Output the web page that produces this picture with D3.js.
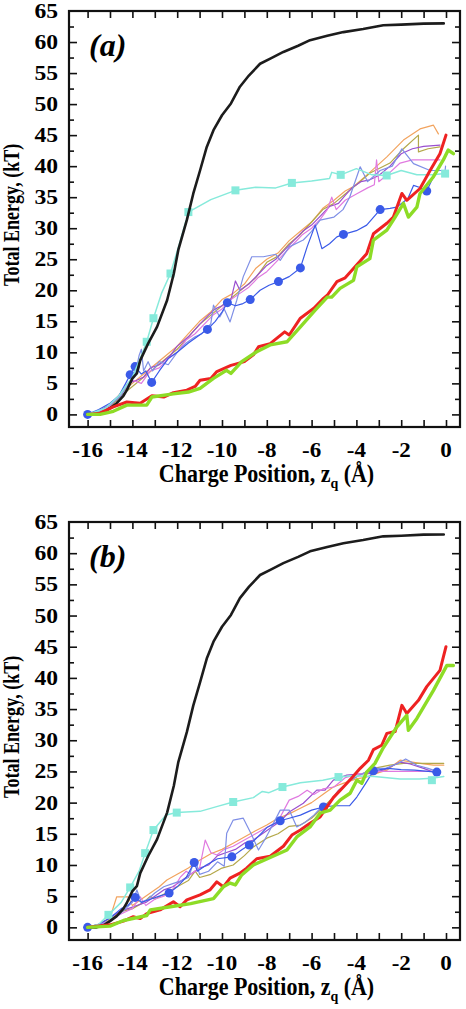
<!DOCTYPE html>
<html><head><meta charset="utf-8">
<script src="https://cdn.jsdelivr.net/npm/d3@7"></script>
<style>body{margin:0;background:#fff}svg{display:block}</style>
</head><body>
<script>
// ---- data ----
const xTicks = [-16,-14,-12,-10,-8,-6,-4,-2,0];
const yTicks = [0,5,10,15,20,25,30,35,40,45,50,55,60,65];
const panelLabels = ["(a)","(b)"];

const blackCurve = [[-16,0],[-15.6,0],[-15.3,0.3],[-15.0,1.0],[-14.7,1.8],[-14.4,3.0],[-14.25,3.9],[-14.0,5.8],[-13.8,6.6],[-13.65,8.7],[-13.3,11.4],[-12.9,14.1],[-12.45,18.4],[-12.15,22.7],[-11.95,26.5],[-11.57,31.3],[-11.28,35.6],[-10.98,39.3],[-10.68,43.1],[-10.38,45.8],[-10.0,48.2],[-9.6,50.1],[-9.2,52.8],[-8.8,54.6],[-8.3,56.5],[-7.8,57.4],[-7.26,58.4],[-6.6,59.4],[-6.07,60.3],[-5.3,61.0],[-4.58,61.6],[-3.7,62.1],[-2.8,62.7],[-2.0,62.8],[-1.0,62.97],[-0.1,63]];

const redA = [[-16,0],[-15.44,0.2],[-14.85,1.2],[-14.25,2.0],[-13.65,1.8],[-13.13,3.0],[-12.6,2.8],[-12.17,3.5],[-11.57,3.9],[-11.2,4.5],[-10.98,5.5],[-10.5,5.8],[-10.23,6.9],[-9.6,7.9],[-9.0,8.5],[-8.6,9.6],[-8.37,10.9],[-7.85,11.4],[-7.2,13.3],[-7.0,12.8],[-6.5,15.5],[-5.9,17.1],[-5.47,18.7],[-5.3,19.2],[-4.87,21.4],[-4.5,22.0],[-4.13,23.5],[-3.54,25.9],[-3.24,29.1],[-2.64,30.8],[-2.35,31.8],[-1.97,35.6],[-1.75,34.5],[-1.16,36.4],[-0.71,39.3],[-0.27,42.0],[0.0,45.0]];
const greenA = [[-16,0],[-15.44,0],[-14.85,0.5],[-14.25,1.5],[-13.36,1.5],[-13.13,2.8],[-12.17,3.3],[-11.5,3.6],[-10.98,4.2],[-10.38,5.8],[-9.8,7.1],[-9.6,6.6],[-9.12,8.5],[-8.45,10.1],[-7.85,11.2],[-7.1,11.7],[-6.5,14.1],[-5.84,16.8],[-5.3,18.9],[-5.1,18.9],[-4.73,20.3],[-4.13,21.6],[-3.98,23.8],[-3.4,25.1],[-3.24,28.1],[-2.64,29.7],[-2.27,31.8],[-1.9,34.0],[-1.68,31.8],[-1.3,33.4],[-1.16,35.6],[-0.56,38.3],[-0.12,41.0],[0.1,42.6],[0.33,42.0]];
const cyanA = [[-16,0],[-15.2,1.0],[-14.6,3.0],[-14.0,6.0],[-13.6,9.5],[-13.36,11.7],[-13.06,15.5],[-12.7,19.5],[-12.3,22.7],[-11.9,27.5],[-11.5,32.6],[-10.5,34.6],[-9.4,36.1],[-8.5,36.6],[-7.6,36.5],[-6.88,37.3],[-6.0,37.6],[-5.2,38.0],[-5.1,39.0],[-4.7,38.6],[-4.0,39.6],[-3.3,38.6],[-2.65,38.5],[-2.0,39.3],[-1.3,38.6],[-0.6,38.6],[-0.04,38.8]];
const cyanMarksA = [[-13.36,11.7],[-13.06,15.5],[-12.3,22.7],[-11.5,32.6],[-9.4,36.1],[-6.88,37.3],[-4.7,38.6],[-2.65,38.5],[-0.04,38.8]];
const orangeA = [[-16,0],[-15.5,0.5],[-15,1.5],[-14.5,3.5],[-14,5],[-13.5,6.5],[-13,8],[-12.5,9.5],[-12,11],[-11.5,13],[-11,15],[-10.5,16.5],[-10,18.5],[-9.5,19.5],[-9,21],[-8.5,23.5],[-8,25],[-7.5,26],[-7,28],[-6.5,29.5],[-6,31],[-5.5,33.2],[-5,34.5],[-4.5,36],[-4.13,36.7],[-3.4,39],[-2.64,41.5],[-1.9,44.2],[-1.16,46],[-0.56,46.6],[-0.34,45.2]];
const oliveA = [[-16,0],[-15.4,0.5],[-15,1.2],[-14.5,3],[-14,4.5],[-13.5,6],[-13,7.5],[-12.5,9],[-12,10.5],[-11.5,12.5],[-11,14.5],[-10.5,16],[-10,17.5],[-9.5,19],[-9,20.5],[-8.5,22],[-8,24.5],[-7.5,25.5],[-7,27.5],[-6.5,29],[-6,31],[-5.5,33],[-5,34],[-4.5,35.5],[-4,37],[-3.39,38.9],[-2.5,40.5],[-1.9,42.8],[-1.23,45],[-1.23,42.3],[-0.8,42.8],[-0.27,43.1]];
const purpleA = [[-16,0],[-15.5,0.6],[-15,1.5],[-14.6,3],[-14.2,5],[-13.8,5.5],[-13.5,6],[-13.2,7.5],[-12.8,8],[-12.3,9.5],[-12,11],[-11.5,12.5],[-11,14.5],[-10.6,16],[-10.3,17],[-10,17.5],[-9.6,18.5],[-9.4,21.5],[-9.2,20],[-8.8,21],[-8.4,22.5],[-8,24],[-7.6,25],[-7.2,26.5],[-6.8,28],[-6.4,29.5],[-6,30.5],[-5.6,32],[-5.2,33.5],[-4.8,34],[-4.5,35.3],[-4.2,36.5],[-3.8,37.5],[-3.4,37.8],[-3.0,38.5],[-2.5,40],[-2.0,42],[-1.5,42.8],[-1,43.2],[-0.27,43.4]];
const pinkA = [[-16,0],[-15.5,0.5],[-15,1.3],[-14.5,3.5],[-14,5.5],[-13.6,5],[-13.2,7],[-12.8,7.5],[-12.4,9],[-12,10],[-11.6,12],[-11.2,13],[-10.8,14.5],[-10.4,16],[-10,17],[-9.6,18.5],[-9.2,19.5],[-8.8,20.5],[-8.4,22],[-8,23],[-7.6,24.5],[-7.2,26],[-6.8,27.5],[-6.4,29],[-6,30],[-5.6,31.5],[-5.3,33],[-5.1,35],[-4.9,33],[-4.5,34.5],[-4.0,35.5],[-3.5,36.5],[-3.2,37],[-3.1,41],[-3.0,37.5],[-2.5,39],[-2.05,40.5],[-1.5,41],[-1,41],[-0.27,41]];
const periA = [[-16,0],[-15.5,0.5],[-15,1.5],[-14.5,3],[-14.2,5],[-13.9,6],[-13.7,9.5],[-13.6,10.5],[-13.5,7],[-13.3,8.5],[-13.1,7],[-12.8,8.5],[-12.4,8],[-12,10],[-11.6,11.5],[-11.2,12.5],[-10.9,13],[-10.5,14.6],[-10.38,17.6],[-10.1,15.7],[-9.9,17],[-9.64,14.9],[-9.34,18.4],[-9.05,22.2],[-8.67,25.4],[-8.15,25.4],[-7.6,25.8],[-7.4,24.8],[-7.0,27],[-6.37,28.1],[-6.0,29.5],[-5.62,31.3],[-5.0,31.8],[-4.6,33],[-4.3,35],[-3.83,39.9],[-3.5,37.5],[-2.94,39.3],[-2.4,40],[-1.97,42.8],[-1.45,40.4],[-0.71,39.3],[-0.04,39.3],[-0.02,40]];
const blueA = [[-16,0],[-15.5,0.8],[-15,1.8],[-14.6,3],[-14.3,5],[-14.1,6.4],[-13.88,7.7],[-13.6,6.5],[-13.4,7],[-13.14,5.15],[-12.8,7],[-12.4,9],[-12,10],[-11.5,11.5],[-11,12.8],[-10.65,13.7],[-10.3,15],[-10.0,16.5],[-9.76,18.0],[-9.4,17.5],[-9.1,17.8],[-8.74,18.5],[-8.3,20],[-7.9,20.8],[-7.48,21.4],[-7.0,22.2],[-6.5,23.6],[-6.2,27.0],[-5.84,30.5],[-5.54,26.7],[-5.2,27.5],[-4.87,28.6],[-4.58,29.0],[-4.0,29.6],[-3.54,30.5],[-2.94,33.0],[-2.5,33.2],[-2.2,33.4],[-1.7,34.8],[-1.45,36.9],[-1.2,36.6],[-0.86,36.0],[-0.6,38],[-0.5,39]];
const blueMarksA = [[-16,0],[-14.1,6.4],[-13.88,7.7],[-13.14,5.15],[-10.65,13.7],[-9.76,18.0],[-8.74,18.5],[-7.48,21.4],[-6.5,23.6],[-4.58,29.0],[-2.94,33.0],[-0.86,36.0]];

const redB = [[-16,0],[-15.0,0.4],[-14.4,1.0],[-13.96,1.7],[-13.65,1.4],[-13.36,2.2],[-12.76,2.8],[-12.17,4.1],[-11.87,3.3],[-11.57,4.4],[-10.98,5.2],[-10.54,6.0],[-10.23,7.3],[-9.94,6.5],[-9.64,7.9],[-9.2,8.7],[-8.9,9.5],[-8.45,11.0],[-7.85,11.4],[-7.26,13.0],[-6.88,14.8],[-6.5,15.6],[-6.07,16.7],[-5.62,17.7],[-5.03,20.8],[-4.58,22.5],[-4.2,24.0],[-3.83,25.5],[-3.46,26.8],[-3.24,28.5],[-2.87,29.2],[-2.64,31.1],[-2.27,31.4],[-1.97,35.6],[-1.75,34.3],[-1.23,36.4],[-0.86,38.6],[-0.27,41.2],[0.0,45.0]];
const greenB = [[-16,0],[-15.0,0.2],[-14.4,1.1],[-13.36,1.9],[-13.2,2.8],[-12.3,3.3],[-11.4,3.8],[-10.38,4.6],[-9.94,6.5],[-9.64,7.1],[-9.4,6.8],[-9.12,8.4],[-8.6,10.0],[-7.85,11.2],[-7.1,12.4],[-6.66,14.5],[-6.07,16.1],[-5.62,18.3],[-5.17,18.8],[-4.73,20.4],[-4.28,21.5],[-3.98,23.6],[-3.76,23.1],[-3.54,24.9],[-3.17,26.3],[-2.8,28.8],[-2.2,32.1],[-1.75,34.0],[-1.68,31.6],[-1.3,33.5],[-0.56,38.0],[0.04,42.0],[0.33,42.0]];
const cyanB = [[-16,0],[-15.5,0.5],[-15.07,2.0],[-14.5,4],[-14.1,6.4],[-13.7,9],[-13.43,11.9],[-13.06,15.6],[-12.5,18.0],[-12.02,18.4],[-10.98,18.6],[-10.2,19.4],[-9.5,20.1],[-8.6,20.8],[-8.2,21.8],[-7.9,21.6],[-7.3,22.5],[-6.5,23.2],[-5.5,23.6],[-4.8,24.1],[-4.2,24.3],[-3.2,24.2],[-2.05,23.8],[-1.2,23.8],[-0.63,23.9],[-0.1,24.2]];
const cyanMarksB = [[-15.07,2.0],[-14.1,6.4],[-13.43,11.9],[-13.06,15.6],[-12.02,18.4],[-9.5,20.1],[-7.3,22.5],[-4.8,24.1],[-0.63,23.6]];
const orangeB = [[-16,0],[-15.5,0.5],[-15,1.5],[-14.7,4.9],[-14.2,4.9],[-14.0,3.5],[-13.6,4.5],[-13.2,5.5],[-12.8,6.5],[-12.46,7.6],[-12,8.5],[-11.5,9.5],[-10.98,10.8],[-10.5,11.8],[-10,12.5],[-9.5,13.5],[-9,14.5],[-8.5,15.5],[-8,16.4],[-7.5,17.5],[-7,18.2],[-6.5,19.1],[-6,20],[-5.5,21.3],[-5.03,22.5],[-4.5,23.2],[-4,23.8],[-3.54,24.1],[-3.0,24.8],[-2.64,25.2],[-2.05,26.8],[-1.5,26.5],[-1.0,26.2],[-0.56,26.0],[-0.1,26.0]];
const oliveB = [[-16,0],[-15.5,0.3],[-15,1.2],[-14.5,2.5],[-14,3],[-13.5,4],[-13.2,5],[-13,4.5],[-12.5,5.5],[-12,6.5],[-11.5,7.5],[-11.2,9],[-11,8],[-10.5,8.5],[-10,9.5],[-9.5,10],[-9,11.5],[-8.6,12.9],[-8,14.3],[-7.5,15],[-7,16.2],[-6.5,16.4],[-6,17.5],[-5.47,19.3],[-5,21],[-4.6,22.5],[-4.28,23.6],[-3.8,24.5],[-3.24,25.5],[-2.5,26],[-1.9,26.3],[-1,26.3],[-0.1,26.3]];
const purpleB = [[-16,0],[-15.5,0.5],[-15,1.5],[-14.6,2.5],[-14.2,3],[-13.8,3.5],[-13.4,4],[-13,5],[-12.6,6],[-12.2,6.5],[-11.8,7.5],[-11.4,8.5],[-11,9.5],[-10.6,10],[-10.2,11.5],[-9.8,12],[-9.4,12.5],[-9,13.5],[-8.6,14],[-8.2,15],[-7.8,16],[-7.4,17],[-7,18.5],[-6.37,19.9],[-5.77,22.0],[-5.4,22],[-5.03,23.6],[-4.43,24.4],[-3.8,24.6],[-3.24,24.7],[-2.6,25.5],[-2.05,26.5],[-1.6,26.2],[-1,25.5],[-0.56,24.9],[-0.4,24.7]];
const pinkB = [[-16,0],[-15.5,0.5],[-15,1],[-14.6,2],[-14.3,2.5],[-14,3],[-13.65,4.9],[-13.4,3.5],[-13,4.5],[-12.6,5],[-12.2,6],[-11.87,8],[-11.6,9],[-11.4,8.5],[-11,9.5],[-10.75,14.0],[-10.5,12],[-10.23,11.6],[-9.9,12.5],[-9.5,13],[-9,14],[-8.5,15],[-8,16],[-7.5,17],[-7,20.4],[-6.6,21],[-6.2,22.0],[-5.9,21.3],[-5.5,22.2],[-5.0,22.5],[-4.5,24],[-4,24.5],[-3.5,24.8],[-3,25],[-2.5,25],[-2,25],[-1.5,25],[-1,25],[-0.4,25]];
const periB = [[-16,0],[-15.5,0.3],[-15,1],[-14.6,2],[-14.3,3],[-14,4],[-13.8,6],[-13.6,4],[-13.3,4.5],[-13,5.5],[-12.6,6.5],[-12.2,7],[-11.8,7.5],[-11.5,8],[-11.2,11],[-11.0,8.5],[-10.6,9],[-10.2,10.5],[-9.9,9.8],[-9.79,15.1],[-9.5,17.2],[-9.05,17.5],[-8.7,15],[-8.37,12.4],[-8.1,14],[-7.8,16],[-7.4,18.8],[-7.0,18.8],[-6.66,16.1],[-6.3,16.8],[-5.9,18],[-5.5,19.5],[-5.2,20],[-4.8,22],[-4.3,23.5],[-3.8,24.5],[-3.24,25.5],[-2.7,25.5],[-2.2,26.2],[-1.8,27],[-1.3,26],[-0.8,25.5],[-0.4,25]];
const blueB = [[-16,0],[-15.5,0.5],[-15,1.5],[-14.5,3],[-14.2,3.5],[-13.88,4.8],[-13.6,4],[-13.2,4.5],[-12.8,5],[-12.36,5.5],[-12,6.5],[-11.6,8],[-11.24,10.4],[-11.1,9],[-10.7,10],[-10.2,11],[-9.56,11.3],[-9.1,12.5],[-8.78,13.2],[-8.4,14.5],[-8,16],[-7.4,17.1],[-7,17.5],[-6.5,18],[-6,18.8],[-5.47,19.3],[-5,19.5],[-4.3,19.5],[-3.98,20.9],[-3.6,23],[-3.24,25.1],[-2.6,25.5],[-2,25.3],[-1.4,25.2],[-0.8,25],[-0.41,24.9]];
const blueMarksB = [[-16,0],[-13.88,4.8],[-12.36,5.5],[-11.24,10.4],[-9.56,11.3],[-8.78,13.2],[-7.4,17.1],[-5.47,19.3],[-3.24,25.1],[-0.41,24.9]];

// ---- drawing ----
const W = 466, H = 1009;
const svg = d3.select("body").append("svg").attr("width", W).attr("height", H);
const FONT = "'Liberation Serif','Times New Roman',serif";

const panels = [
  {top: 11, bottom: 427, label: panelLabels[0],
   lines: [["thin",orangeA,"#f2a35e"],["thin",oliveA,"#b4a84a"],["thin",purpleA,"#9a4fcf"],["thin",pinkA,"#e07ae0"],["thin",periA,"#7f8fe6"],["blue",blueA,"#3a5ae8"],["cyan",cyanA,"#86eadb"],["black",blackCurve,"#1c1c1c"],["red",redA,"#ee2222"],["green",greenA,"#8ddc26"]],
   cyanMarks: cyanMarksA, blueMarks: blueMarksA},
  {top: 522, bottom: 940, label: panelLabels[1],
   lines: [["thin",orangeB,"#f2a35e"],["thin",oliveB,"#b4a84a"],["thin",purpleB,"#9a4fcf"],["thin",pinkB,"#e07ae0"],["thin",periB,"#7f8fe6"],["blue",blueB,"#3a5ae8"],["cyan",cyanB,"#86eadb"],["black",blackCurve,"#1c1c1c"],["red",redB,"#ee2222"],["green",greenB,"#8ddc26"]],
   cyanMarks: cyanMarksB, blueMarks: blueMarksB}
];
const widths = {thin:1.2, blue:1.2, cyan:1.5, black:2.6, red:3, green:3.4};

const left = 69, right = 460;
panels.forEach(p => {
  const x = d3.scaleLinear().domain([-16.83, 0.625]).range([left, right]);
  const y = d3.scaleLinear().domain([-2.03, 65]).range([p.bottom, p.top]);
  const g = svg.append("g");
  const line = d3.line().x(d => x(d[0])).y(d => y(d[1]));

  p.lines.forEach(([kind, data, col]) => {
    g.append("path").attr("d", line(data)).attr("fill","none")
      .attr("stroke", col).attr("stroke-width", widths[kind])
      .attr("stroke-linejoin","round").attr("stroke-linecap","round");
    if (kind === "cyan") {
      g.selectAll(null).data(p.cyanMarks).join("rect")
        .attr("x", d => x(d[0]) - 4).attr("y", d => y(d[1]) - 4)
        .attr("width", 8).attr("height", 8).attr("fill", col);
    }
    if (kind === "blue") {
      g.selectAll(null).data(p.blueMarks).join("circle")
        .attr("cx", d => x(d[0])).attr("cy", d => y(d[1])).attr("r", 4.5)
        .attr("fill", col);
    }
  });

  // axes with inward ticks
  const ax = g.append("g");
  const xMinor = d3.range(-16, 1, 1);
  const yMinor = d3.range(2.5, 65, 5);
  ax.append("g").attr("transform", `translate(0,${p.bottom})`)
    .call(d3.axisBottom(x).tickValues(xMinor).tickSize(-7).tickFormat(""))
    .call(s => s.select(".domain").remove());
  ax.append("g").attr("transform", `translate(0,${p.top})`)
    .call(d3.axisTop(x).tickValues(xMinor).tickSize(-7).tickFormat(""))
    .call(s => s.select(".domain").remove());
  ax.append("g").attr("transform", `translate(${left},0)`)
    .call(d3.axisLeft(y).tickValues(yTicks.filter(v => v < 65)).tickSize(-8).tickFormat(""))
    .call(s => s.select(".domain").remove());
  ax.append("g").attr("transform", `translate(${left},0)`)
    .call(d3.axisLeft(y).tickValues(yMinor).tickSize(-5).tickFormat(""))
    .call(s => s.select(".domain").remove());
  ax.append("g").attr("transform", `translate(${right},0)`)
    .call(d3.axisRight(y).tickValues(yTicks.filter(v => v < 65)).tickSize(-8).tickFormat(""))
    .call(s => s.select(".domain").remove());
  ax.append("g").attr("transform", `translate(${right},0)`)
    .call(d3.axisRight(y).tickValues(yMinor).tickSize(-5).tickFormat(""))
    .call(s => s.select(".domain").remove());
  ax.selectAll(".tick line").attr("stroke", "#111").attr("stroke-width", 1.6);

  g.append("rect").attr("x", left).attr("y", p.top)
    .attr("width", right - left).attr("height", p.bottom - p.top)
    .attr("fill", "none").attr("stroke", "#111").attr("stroke-width", 2.2);

  // tick labels (slightly widened, like the reference)
  g.selectAll(null).data(xTicks).join("text")
    .attr("transform", d => `translate(${x(d)},${p.bottom + 30}) scale(1.15,1)`)
    .attr("text-anchor", "middle").attr("font-family", FONT)
    .attr("font-weight", "bold").attr("font-size", 20)
    .text(d => String(d));
  g.selectAll(null).data(yTicks).join("text")
    .attr("transform", d => `translate(58,${y(d) + 7}) scale(1.18,1)`)
    .attr("text-anchor", "end").attr("font-family", FONT)
    .attr("font-weight", "bold").attr("font-size", 20)
    .text(d => d);

  const xt = g.append("text")
    .attr("transform", `translate(${(left + right) / 2 + 2},${p.bottom + 55}) scale(1,1.1)`)
    .attr("text-anchor", "middle").attr("font-family", FONT)
    .attr("font-weight", "bold").attr("font-size", 22);
  xt.append("tspan").text("Charge Position, z");
  xt.append("tspan").attr("font-size", 14).attr("dy", 5).text("q");
  xt.append("tspan").attr("dy", -5).text(" (Å)");

  const ymid = p.top + (p.bottom - p.top) * 0.49;
  g.append("text").attr("transform", `translate(19,${ymid}) rotate(-90) scale(0.82,1.05)`)
    .attr("text-anchor", "middle").attr("font-family", FONT)
    .attr("font-weight", "bold").attr("font-size", 22)
    .text("Total Energy, (kT)");

  g.append("text").attr("x", 89).attr("y", p.top + 45)
    .attr("font-family", FONT).attr("font-weight", "bold")
    .attr("font-style", "italic").attr("font-size", 32)
    .text(p.label);
});
</script>
</body></html>
